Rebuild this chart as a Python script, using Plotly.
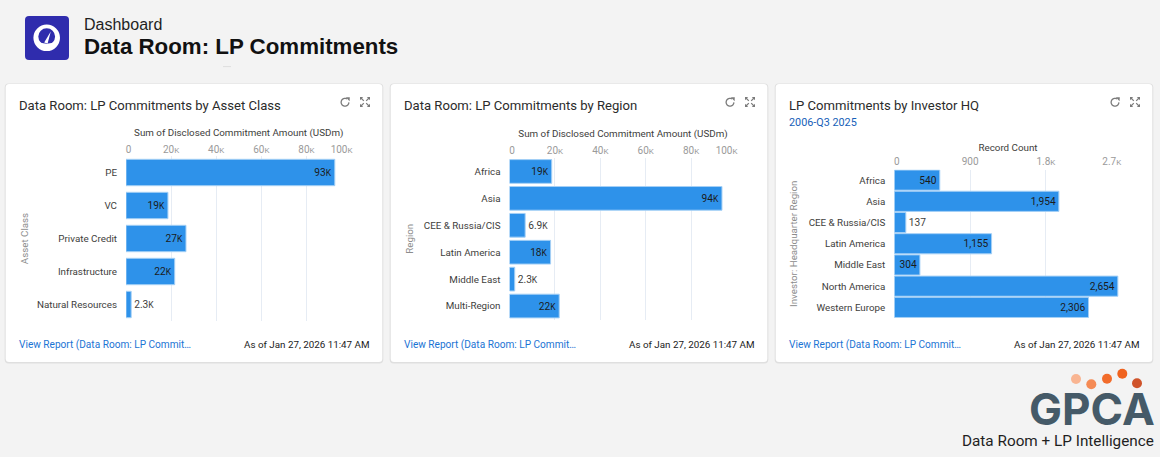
import math
import re
import plotly.graph_objects as go

# ---- chart data ----
asset_classes = ["PE", "VC", "Private Credit", "Infrastructure", "Natural Resources"]
asset_amounts = [92600, 18600, 26600, 21600, 2300]

regions = ["Africa", "Asia", "CEE & Russia/CIS", "Latin America", "Middle East", "Multi-Region"]
region_amounts = [18600, 93600, 6900, 18100, 2300, 21900]

hq_regions = ["Africa", "Asia", "CEE & Russia/CIS", "Latin America", "Middle East",
              "North America", "Western Europe"]
hq_counts = [540, 1954, 137, 1155, 304, 2654, 2306]

amount_ticks = [0, 20000, 40000, 60000, 80000, 100000]
amount_tick_labels = ["0", "20K", "40K", "60K", "80K", "100K"]
count_ticks = [0, 900, 1800, 2700]
count_tick_labels = ["0", "900", "1.8K", "2.7K"]

W, H = 1160, 457
PAGE = "#f3f3f3"
BAR = "#2e92ea"
GRID = "#e6ecf4"
INK = "#3e3e3c"
NAVY = "#1b1b1b"
MUTED = "#8c8c8c"
LINK = "#1b74d4"
FONT = "Liberation Sans"
SMALL = "Roboto"


def px_x(x):
    return x / W


def px_y(y):
    return 1 - y / H


def small_k(label, size):
    # the K suffix is set smaller than its digits
    return label.replace("K", f"<span style='font-size:{size}px'>K</span>")


def short_amount(v):
    k = v / 1000
    return f"{k:.1f}K" if k < 10 else f"{k:.0f}K"


def plain_count(v):
    return f"{v:,}"


def tick_text(labels, first_pad, last_pad):
    # first and last labels sit inside the plot edges rather than centred on their gridline
    out = [small_k(t, 8) for t in labels]
    out[0] = "\u00a0" * first_pad + out[0]
    out[-1] = out[-1] + "\u00a0" * last_pad
    return out


fig = go.Figure()
shapes = []
notes = []


def note(x, y, text, size, color, anchor="left", family=SMALL, weight=None):
    notes.append(dict(xref="paper", yref="paper", x=px_x(x), y=px_y(y), text=text, showarrow=False,
                      xanchor=anchor, yanchor="middle", align=anchor, borderpad=0,
                      font=dict(family=family, size=size, color=color, weight=weight)))


def rounded_rect(x0, y0, x1, y1, r):
    return (f"M{x0+r},{y0} L{x1-r},{y0} Q{x1},{y0} {x1},{y0+r} L{x1},{y1-r} Q{x1},{y1} {x1-r},{y1} "
            f"L{x0+r},{y1} Q{x0},{y1} {x0},{y1-r} L{x0},{y0+r} Q{x0},{y0} {x0+r},{y0} Z")


def pixel_shape(path, fill=None, line=None, width=0, layer="above"):
    # paths are written in page pixels ("x,y" pairs) and stored as paper fractions
    paper = re.sub(r"(-?[\d.]+),(-?[\d.]+)",
                   lambda m: f"{px_x(float(m[1])):.5f},{px_y(float(m[2])):.5f}", path)
    shapes.append(dict(type="path", xref="paper", yref="paper", path=paper,
                       fillcolor=fill if fill else "rgba(0,0,0,0)",
                       line=dict(color=line if line else "rgba(0,0,0,0)", width=width), layer=layer))


def circle(cx, cy, r, fill):
    shapes.append(dict(type="circle", xref="paper", yref="paper", layer="above",
                       x0=px_x(cx - r), x1=px_x(cx + r), y0=px_y(cy + r), y1=px_y(cy - r),
                       fillcolor=fill, line=dict(width=0)))


def card_icons(dx):
    # refresh arrow: an open ring with a small head at its upper right
    cx, cy, r = 345 + dx, 102.3, 3.9
    pts = [(cx + r * math.cos(math.radians(a)), cy - r * math.sin(math.radians(a)))
           for a in range(60, 361, 20)]
    pixel_shape("M" + " L".join(f"{x:.2f},{y:.2f}" for x, y in pts), line="#7b7b7b", width=1.3)
    pixel_shape(f"M{345.8+dx},97.2 L{349.8+dx},97.2 L{349.6+dx},101.2 Z", fill="#7b7b7b")
    # expand arrows
    cx, cy = 365 + dx, 102
    for sx, sy in ((-1, -1), (1, -1), (-1, 1), (1, 1)):
        pixel_shape(f"M{cx+sx*5},{cy+sy*1.8} L{cx+sx*5},{cy+sy*5} L{cx+sx*1.8},{cy+sy*5} Z", fill="#7b7b7b")
        pixel_shape(f"M{cx+sx*4},{cy+sy*4} L{cx+sx*1.2},{cy+sy*1.2}", line="#7b7b7b", width=1.2)


def add_panel(idx, dx, title, cats, vals, fmt, ticks, tick_labels, x_title, y_title,
              x_span, y_span, bar_width, outside, standoff_x, standoff_y, tick_lift, pads, subtitle=None):
    suffix = "" if idx == 1 else str(idx)
    texts = [small_k(fmt(v), 8.5) for v in vals]
    fig.add_trace(go.Bar(
        y=cats, x=vals, orientation="h", xaxis="x" + suffix, yaxis="y" + suffix, width=bar_width,
        marker=dict(color=BAR, line=dict(color="#a5d0f6", width=1)),
        text=texts, textangle=0, constraintext="none", cliponaxis=False,
        textposition=["outside" if v in outside else "inside" for v in vals],
        insidetextanchor="end",
        insidetextfont=dict(family=SMALL, size=10.2, color=NAVY),
        outsidetextfont=dict(family=SMALL, size=10.2, color=INK),
        hoverinfo="skip", showlegend=False,
    ))
    fig.update_layout({
        "xaxis" + suffix: dict(
            domain=[px_x(x_span[0]), px_x(x_span[1])], anchor="y" + suffix, side="top",
            range=[ticks[0], ticks[-1]], tickmode="array", tickvals=ticks,
            ticktext=tick_text(tick_labels, *pads), showgrid=True, gridcolor=GRID, gridwidth=1,
            zeroline=False, showline=False, ticks="", ticklabelstandoff=tick_lift,
            tickfont=dict(family=SMALL, size=10, color="#9a9a9a"),
            title=dict(text=x_title, font=dict(family=SMALL, size=9.8, color=INK), standoff=standoff_x),
        ),
        "yaxis" + suffix: dict(
            domain=[px_y(y_span[1]), px_y(y_span[0])], anchor="x" + suffix, autorange="reversed",
            type="category", showgrid=False, zeroline=False, showline=False, ticks="", ticklen=0,
            ticklabelstandoff=8,
            tickfont=dict(family=SMALL, size=9.8, color=INK),
            title=dict(text=y_title, font=dict(family=SMALL, size=9.75, color=MUTED), standoff=standoff_y),
        ),
    })
    # card body and its soft edge
    pixel_shape(rounded_rect(4.7 + dx, 83.4, 383.3 + dx, 363.4, 4), fill="#dfdfdf", layer="below")
    pixel_shape(rounded_rect(5.7 + dx, 84, 382.3 + dx, 362, 3.5), fill="#ffffff", layer="below")
    note(18 + dx, 105.2, title, 13.1, "#2b2b2b")
    if subtitle:
        note(18 + dx, 122.4, subtitle, 10.8, "#1660b8")
    note(18 + dx, 344.6, "View Report (Data Room: LP Commit…", 10.1, LINK)
    note(370 + dx, 344, "As of Jan 27, 2026 11:47 AM", 9.8, NAVY, anchor="right")
    card_icons(dx)


add_panel(1, 0, "Data Room: LP Commitments by Asset Class", asset_classes, asset_amounts, short_amount,
          amount_ticks, amount_tick_labels, "Sum of Disclosed Commitment Amount (USDm)", "Asset Class",
          (126, 351.5), (156, 321), 0.8, {2300}, 5, 6, 0, (2, 8))
add_panel(2, 385, "Data Room: LP Commitments by Region", regions, region_amounts, short_amount,
          amount_ticks, amount_tick_labels, "Sum of Disclosed Commitment Amount (USDm)", "Region",
          (509.5, 736.5), (158, 319.5), 0.88, {6900, 2300}, 5, 8, 1, (2, 8))
add_panel(3, 770, "LP Commitments by Investor HQ", hq_regions, hq_counts, plain_count,
          count_ticks, count_tick_labels, "Record Count", "Investor: Headquarter Region",
          (894.3, 1121.7), (169.5, 318), 0.95, {137}, 2, 9, 2, (2, 8), subtitle="2006-Q3 2025")

# page header
pixel_shape(rounded_rect(25, 16, 69, 60, 4), fill="#2f2cad")
circle(46.7, 37.8, 13.3, "#ffffff")
circle(46.7, 36.6, 8.4, "#2f2cad")
pixel_shape("M37,41 Q46.7,46.5 56.4,41 L53,49 L40,49 Z", fill="#ffffff")
pixel_shape("M44.2,42.6 L50.8,31.5 L47.6,43.6 Z", fill="#ffffff")
pixel_shape("M223,66.6 L231,66.6", line="#dedede", width=1)
note(83, 24.5, "Dashboard", 16, "#1f1f1f", family=FONT)
note(83, 46.5, "Data Room: LP Commitments", 22.3, "#111111", family=FONT, weight="bold")

# brand mark
for cx, cy, colour in ((1076, 379, "#f9b592"), (1091.3, 384.3, "#f58b55"), (1107, 378.7, "#f26c2b"),
                       (1122.3, 373.7, "#f0631f"), (1137, 383.3, "#cf532a")):
    circle(cx, cy, 5, colour)
note(1156, 408.5, "GPCA", 44, "#455a68", anchor="right", family="Inter", weight=700)
note(1154.5, 441, "Data Room + LP Intelligence", 15.3, "#1f1f1f", anchor="right", family="Roboto")

fig.update_layout(
    width=W, height=H, autosize=False,
    margin=dict(l=0, r=0, t=0, b=0, autoexpand=False),
    paper_bgcolor=PAGE, plot_bgcolor="rgba(0,0,0,0)",
    barmode="overlay", shapes=shapes, annotations=notes,
)

fig.write_html("out.html", config=dict(displayModeBar=False))
